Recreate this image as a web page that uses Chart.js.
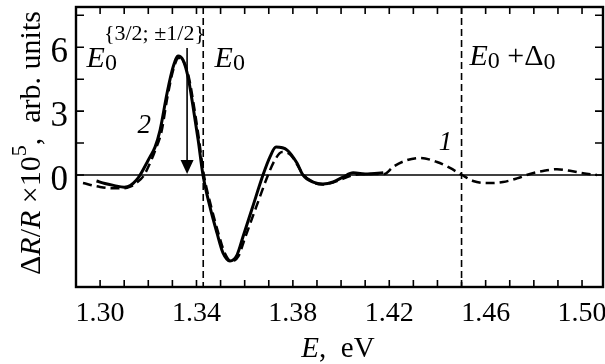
<!DOCTYPE html>
<html>
<head>
<meta charset="utf-8">
<script src="https://cdn.jsdelivr.net/npm/chart.js@4"></script>
<style>
  html, body { margin: 0; padding: 0; background: #fff; }
</style>
</head>
<body>
<canvas id="chart" width="605" height="364"></canvas>
<script>
// curve 2 (solid)
const energy2 = [1.2985, 1.302, 1.306, 1.310, 1.3125, 1.315, 1.3166, 1.3207, 1.3228, 1.3249, 1.3278, 1.3303, 1.3324, 1.3344, 1.3365, 1.3386, 1.3407, 1.3427, 1.3456, 1.3485, 1.3510, 1.3539, 1.3568, 1.3593, 1.3633, 1.3676, 1.3705, 1.3730, 1.3776, 1.3817, 1.3842, 1.3884, 1.3925, 1.3967, 1.4008, 1.4050, 1.4108, 1.4175];
const signal2 = [-0.28, -0.40, -0.50, -0.57, -0.50, -0.25, 0.0, 0.85, 1.31, 2.11, 3.85, 5.07, 5.59, 5.40, 4.60, 3.19, 1.64, 0.0, -1.50, -2.72, -3.66, -4.04, -3.76, -2.90, -1.50, 0.0, 0.85, 1.31, 1.17, 0.56, 0.0, -0.33, -0.42, -0.33, -0.10, 0.10, 0.05, 0.10];

// curve 1 (dashed)
const energy1 = [1.2929, 1.300, 1.305, 1.310, 1.3125, 1.315, 1.318, 1.3205, 1.323, 1.3255, 1.328, 1.3305, 1.3326, 1.3346, 1.3368, 1.339, 1.341, 1.343, 1.346, 1.349, 1.3515, 1.3545, 1.3575, 1.360, 1.3648, 1.3697, 1.3725, 1.3755, 1.379, 1.3845, 1.3885, 1.392, 1.3996, 1.4037, 1.410, 1.418, 1.4216, 1.4274, 1.4328, 1.4398, 1.4452, 1.4502, 1.4548, 1.4606, 1.4672, 1.473, 1.4784, 1.4838, 1.4896, 1.495, 1.5004, 1.5062];
const signal1 = [-0.38, -0.56, -0.62, -0.62, -0.55, -0.38, -0.05, 0.50, 1.20, 2.05, 3.70, 5.00, 5.50, 5.35, 4.60, 3.20, 1.70, 0.05, -1.45, -2.70, -3.60, -4.05, -3.80, -3.00, -1.50, 0.0, 0.70, 1.08, 0.95, 0.0, -0.35, -0.45, -0.23, -0.05, 0.05, 0.05, 0.38, 0.70, 0.80, 0.61, 0.33, 0.0, -0.28, -0.38, -0.33, -0.16, 0.05, 0.19, 0.27, 0.20, 0.08, 0.0];

const xTickLabels = [1.30, 1.34, 1.38, 1.42, 1.46, 1.50];
const yTickLabels = [0, 3, 6];
const xMinorTicks = [1.30, 1.31, 1.32, 1.33, 1.34, 1.35, 1.36, 1.37, 1.38, 1.39, 1.40, 1.41, 1.42, 1.43, 1.44, 1.45, 1.46, 1.47, 1.48, 1.49, 1.50];
const yMinorTicks = [0, 1.5, 3, 4.5, 6, 7.5];
const levelLines = [1.3428, 1.45];        // E0 and E0+Δ0
const arrowE = 1.3361, arrowTop = 5.96, arrowTip = 0.05;

const SERIF = '"Liberation Serif", "DejaVu Serif", serif';

function font(size, italic) {
  return (italic ? 'italic ' : '') + size + 'px ' + SERIF;
}

// parts: {t, size, italic, dy}
function richWidth(ctx, parts) {
  let w = 0;
  parts.forEach(p => { ctx.font = font(p.size, p.italic); w += ctx.measureText(p.t).width; });
  return w;
}
function drawRich(ctx, parts, x, y) {
  ctx.textAlign = 'left';
  ctx.textBaseline = 'alphabetic';
  parts.forEach(p => {
    ctx.font = font(p.size, p.italic);
    ctx.fillText(p.t, x, y + (p.dy || 0));
    x += ctx.measureText(p.t).width;
  });
}

const decorations = {
  id: 'decorations',
  beforeDatasetsDraw(chart) {
    const { ctx, chartArea: a, scales: { x, y } } = chart;
    ctx.save();
    ctx.strokeStyle = '#000';
    // zero line
    ctx.lineWidth = 1.6;
    ctx.beginPath();
    const y0 = y.getPixelForValue(0);
    ctx.moveTo(a.left, y0);
    ctx.lineTo(a.right, y0);
    ctx.stroke();
    // E0 and E0+Δ0 dashed lines
    ctx.setLineDash([7, 4]);
    levelLines.forEach(e => {
      const px = x.getPixelForValue(e);
      ctx.beginPath();
      ctx.moveTo(px, a.top);
      ctx.lineTo(px, a.bottom);
      ctx.stroke();
    });
    ctx.restore();
  },
  afterDatasetsDraw(chart) {
    const { ctx, chartArea: a, scales: { x, y } } = chart;
    ctx.save();
    ctx.strokeStyle = '#000';
    ctx.fillStyle = '#000';

    // frame
    ctx.lineWidth = 2.4;
    ctx.strokeRect(a.left, a.top, a.right - a.left, a.bottom - a.top);

    // inward ticks
    ctx.lineWidth = 1.6;
    ctx.beginPath();
    xMinorTicks.forEach(v => {
      const px = x.getPixelForValue(v);
      ctx.moveTo(px, a.bottom); ctx.lineTo(px, a.bottom - 7);
      ctx.moveTo(px, a.top); ctx.lineTo(px, a.top + 7);
    });
    yMinorTicks.forEach(v => {
      const py = y.getPixelForValue(v);
      ctx.moveTo(a.left, py); ctx.lineTo(a.left + 8, py);
      ctx.moveTo(a.right, py); ctx.lineTo(a.right - 8, py);
    });
    ctx.stroke();

    // arrow
    const ax = x.getPixelForValue(arrowE);
    const aTop = y.getPixelForValue(arrowTop);
    const aTip = y.getPixelForValue(arrowTip);
    ctx.lineWidth = 1.6;
    ctx.beginPath();
    ctx.moveTo(ax, aTop);
    ctx.lineTo(ax, aTip - 10);
    ctx.stroke();
    ctx.beginPath();
    ctx.moveTo(ax, aTip);
    ctx.lineTo(ax - 6.5, aTip - 14);
    ctx.lineTo(ax + 6.5, aTip - 14);
    ctx.closePath();
    ctx.fill();

    // annotations
    const X = v => x.getPixelForValue(v);
    const Y = v => y.getPixelForValue(v);
    // E0^{3/2; ±1/2}
    ctx.font = font(30, true);
    const eW = ctx.measureText('E').width;
    drawRich(ctx, [{ t: 'E', size: 30, italic: true }], X(1.2944), Y(5.07));
    drawRich(ctx, [{ t: '0', size: 24 }], X(1.2944) + eW, Y(5.07) + 3);
    drawRich(ctx, [{ t: '{3/2; \u00b11/2}', size: 22 }], X(1.2944) + eW - 1, Y(6.34));
    // E0
    drawRich(ctx, [{ t: 'E', size: 30, italic: true }, { t: '0', size: 24, dy: 3 }], X(1.3475), Y(5.07));
    // E0 + Δ0
    drawRich(ctx, [{ t: 'E', size: 30, italic: true }, { t: '0', size: 24, dy: 3 }, { t: ' +\u0394', size: 30 }, { t: '0', size: 24, dy: 4 }], X(1.4533), Y(5.16));
    // curve numbers
    drawRich(ctx, [{ t: '2', size: 27, italic: true }], X(1.3155), Y(1.97));
    drawRich(ctx, [{ t: '1', size: 27, italic: true }], X(1.4405), Y(1.17));

    ctx.restore();

    // axis titles
    ctx.save();
    ctx.fillStyle = '#000';
    const xTitle = [{ t: 'E', size: 29, italic: true }, { t: ',  eV', size: 29 }];
    const xw = richWidth(ctx, xTitle);
    drawRich(ctx, xTitle, 338 - xw / 2, 357);

    const yTitle = [
      { t: '\u0394', size: 30 }, { t: 'R', size: 30, italic: true }, { t: '/', size: 30 },
      { t: 'R', size: 30, italic: true }, { t: ' \u00d710', size: 30 }, { t: '5', size: 22, dy: -14 },
      { t: ',  arb. units', size: 30 }
    ];
    const yw = richWidth(ctx, yTitle);
    ctx.translate(40, 143);
    ctx.rotate(-Math.PI / 2);
    drawRich(ctx, yTitle, -yw / 2, 0);
    ctx.restore();
  }
};

new Chart(document.getElementById('chart').getContext('2d'), {
  type: 'line',
  data: {
    datasets: [
      {
        label: '2',
        data: energy2.map((e, i) => ({ x: e, y: signal2[i] })),
        borderColor: '#000',
        borderWidth: 3,
        pointRadius: 0,
        fill: false,
        cubicInterpolationMode: 'monotone'
      },
      {
        label: '1',
        data: energy1.map((e, i) => ({ x: e, y: signal1[i] })),
        borderColor: '#000',
        borderWidth: 2.5,
        borderDash: [9, 5],
        pointRadius: 0,
        fill: false,
        cubicInterpolationMode: 'monotone'
      }
    ]
  },
  options: {
    responsive: false,
    animation: false,
    layout: { padding: { top: 7, right: 2, left: 0, bottom: 0 } },
    plugins: { legend: { display: false }, tooltip: { enabled: false } },
    scales: {
      x: {
        type: 'linear',
        min: 1.290,
        max: 1.5087,
        grid: { display: false, drawTicks: false },
        border: { display: false },
        afterBuildTicks: s => { s.ticks = xTickLabels.map(v => ({ value: v })); },
        afterFit: s => { s.height = 77; s.paddingLeft = 0; s.paddingRight = 0; },
        ticks: {
          color: '#000',
          padding: 10,
          maxRotation: 0,
          font: { family: SERIF, size: 28 },
          callback: v => Number(v).toFixed(2)
        }
      },
      y: {
        type: 'linear',
        min: -5.26,
        max: 7.89,
        grid: { display: false, drawTicks: false },
        border: { display: false },
        afterBuildTicks: s => { s.ticks = yTickLabels.map(v => ({ value: v })); },
        afterFit: s => { s.width = 76; s.paddingTop = 0; s.paddingBottom = 0; },
        ticks: {
          color: '#000',
          padding: 8,
          labelOffset: 6,
          font: { family: SERIF, size: 35 },
          callback: v => String(v)
        }
      }
    }
  },
  plugins: [decorations]
});
</script>
</body>
</html>
